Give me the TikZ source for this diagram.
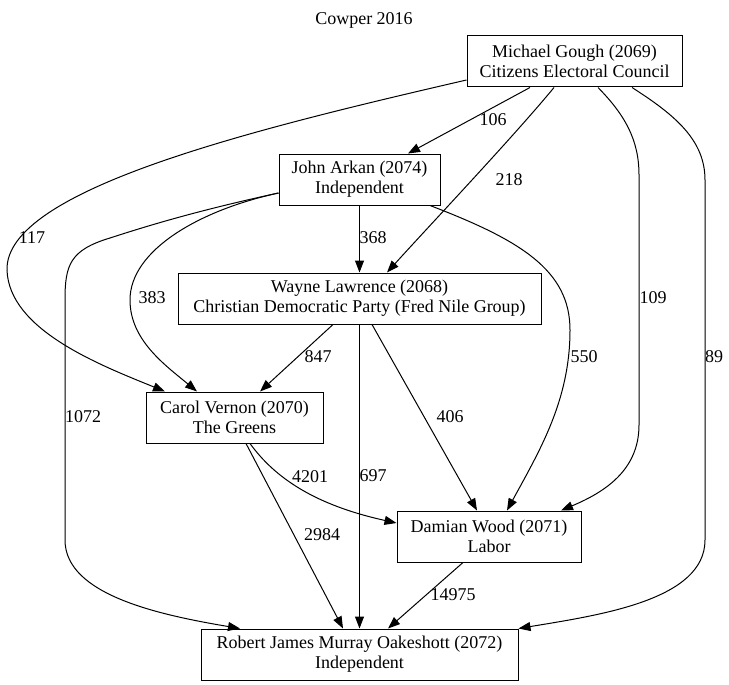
\documentclass[tikz,border=0pt]{standalone}
\usepackage{fontspec}
\setmainfont{Liberation Serif}
\usetikzlibrary{arrows.meta}
\begin{document}
\begin{tikzpicture}[x=1bp,y=-1bp,
  box/.style={draw,line width=1bp,rectangle,inner sep=0pt,align=center,minimum height=51bp,font=\fontsize{18bp}{20bp}\selectfont},
  lbl/.style={inner sep=0pt,font=\fontsize{18bp}{20bp}\selectfont},
  edge/.style={line width=1bp,-{Triangle[length=12bp,width=9bp]}}]
\useasboundingbox (0,0) rectangle (729,685);
\node[lbl] (title) at (364,20) {Cowper 2016};
\node[box,minimum width=215bp] (MG) at (574.5,61.5) {Michael Gough (2069)\\Citizens Electoral Council};
\node[box,minimum width=161bp] (JA) at (359.5,179.5) {John Arkan (2074)\\Independent};
\node[box,minimum width=363bp] (WL) at (359.5,298.5) {Wayne Lawrence (2068)\\Christian Democratic Party (Fred Nile Group)};
\node[box,minimum width=177bp] (CV) at (234.5,417.5) {Carol Vernon (2070)\\The Greens};
\node[box,minimum width=184bp] (DW) at (489,536.5) {Damian Wood (2071)\\Labor};
\node[box,minimum width=317bp] (RO) at (359.5,654.5) {Robert James Murray Oakeshott (2072)\\Independent};
% edges
\draw[edge] ([xshift=-44.5bp]MG.south) -- ([xshift=48.5bp]JA.north);
\draw[edge] ([xshift=-20.5bp]MG.south) .. controls (515,135) and (430,225) .. ([xshift=27.5bp]WL.north);
\draw[edge] ([yshift=-18.5bp]MG.west) .. controls (250,130) and (5,190) .. (7,270) .. controls (9,330) and (100,365) .. ([xshift=-69.5bp]CV.north);
\draw[edge] ([xshift=23.5bp]MG.south) .. controls (625,115) and (639,140) .. (639,175) -- (639,425) .. controls (639,470) and (605,492) .. ([xshift=72bp]DW.north);
\draw[edge] ([xshift=57.5bp]MG.south) .. controls (675,115) and (705,140) .. (705,180) -- (705,540) .. controls (705,600) and (600,615) .. (RO.north east);
\draw[edge] (JA.south) -- (WL.north);
\draw[edge] ([yshift=-13.5bp]JA.west) .. controls (200,210) and (130,250) .. (130,300) .. controls (130,340) and (165,365) .. ([xshift=-37.5bp]CV.north);
\draw[edge] ([yshift=-13.5bp]JA.west) .. controls (200,210) and (150,225) .. (110,238) .. controls (70,250) and (65,265) .. (65,300) -- (65,540) .. controls (65,595) and (160,615) .. ([xshift=-119.5bp]RO.north);
\draw[edge] ([xshift=70.5bp]JA.south) .. controls (520,240) and (570,270) .. (570,330) .. controls (570,400) and (540,450) .. ([xshift=18bp]DW.north);
\draw[edge] ([xshift=-26.5bp]WL.south) -- ([xshift=25.5bp]CV.north);
\draw[edge] (WL.south) -- (RO.north);
\draw[edge] ([xshift=12.5bp]WL.south) -- ([xshift=-12bp]DW.north);
\draw[edge] ([xshift=15.5bp]CV.south) .. controls (275,478) and (315,505) .. ([yshift=13.5bp]DW.west);
\draw[edge] ([xshift=11.5bp]CV.south) -- ([xshift=-16.5bp]RO.north);
\draw[edge] ([xshift=-26bp]DW.south) -- ([xshift=28.5bp]RO.north);
% labels
\node[lbl] (l106) at (493,120) {106};
\node[lbl] (l218) at (509,180) {218};
\node[lbl] (l117) at (32,238) {117};
\node[lbl] (l368) at (373,238) {368};
\node[lbl] (l383) at (152,298) {383};
\node[lbl] (l109) at (653,298) {109};
\node[lbl] (l847) at (318,357) {847};
\node[lbl] (l550) at (584,357) {550};
\node[lbl] (l89) at (714,357) {89};
\node[lbl] (l1072) at (83,417) {1072};
\node[lbl] (l406) at (450,417) {406};
\node[lbl] (l697) at (373,476) {697};
\node[lbl] (l4201) at (310,477) {4201};
\node[lbl] (l2984) at (322,535) {2984};
\node[lbl] (l14975) at (453,595) {14975};
\end{tikzpicture}
\end{document}
